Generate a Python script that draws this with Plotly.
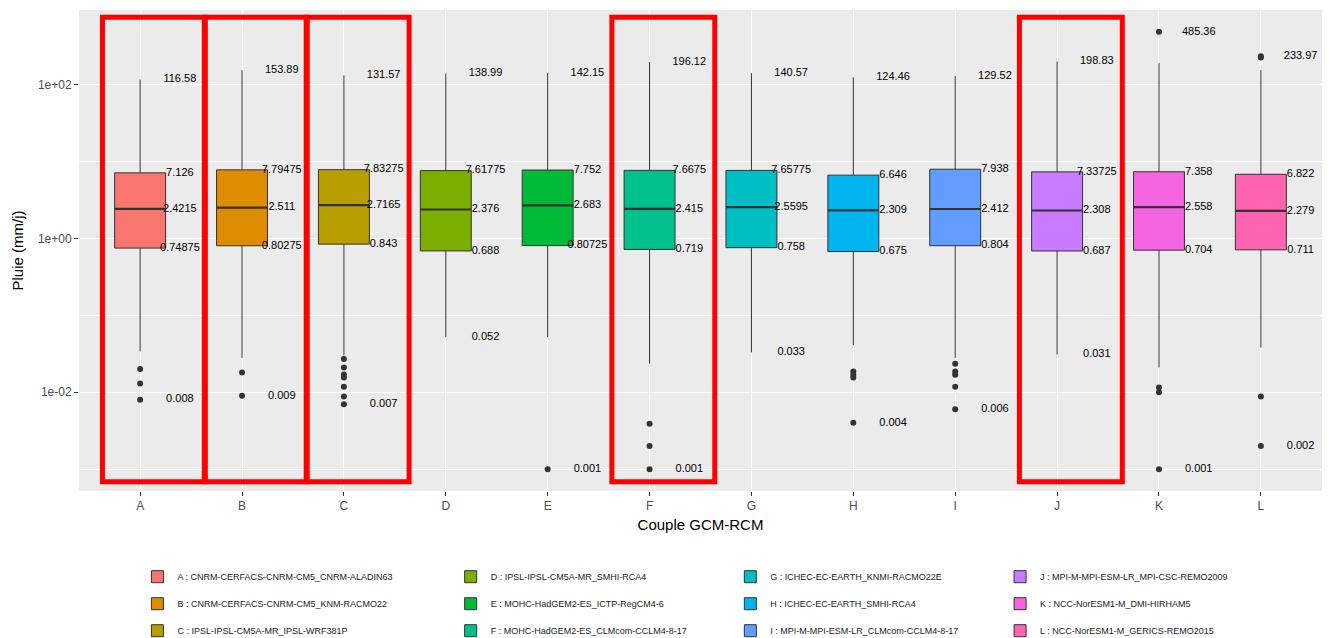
import plotly.graph_objects as go

categories = ["A", "B", "C", "D", "E", "F", "G", "H", "I", "J", "K", "L"]
legend_names = [
    "A : CNRM-CERFACS-CNRM-CM5_CNRM-ALADIN63",
    "B : CNRM-CERFACS-CNRM-CM5_KNM-RACMO22",
    "C : IPSL-IPSL-CM5A-MR_IPSL-WRF381P",
    "D : IPSL-IPSL-CM5A-MR_SMHI-RCA4",
    "E : MOHC-HadGEM2-ES_ICTP-RegCM4-6",
    "F : MOHC-HadGEM2-ES_CLMcom-CCLM4-8-17",
    "G : ICHEC-EC-EARTH_KNMI-RACMO22E",
    "H : ICHEC-EC-EARTH_SMHI-RCA4",
    "I : MPI-M-MPI-ESM-LR_CLMcom-CCLM4-8-17",
    "J : MPI-M-MPI-ESM-LR_MPI-CSC-REMO2009",
    "K : NCC-NorESM1-M_DMI-HIRHAM5",
    "L : NCC-NorESM1-M_GERICS-REMO2015",
]
colors = ["#F8766D", "#DE8C00", "#B79F00", "#7CAE00", "#00BA38", "#00C08B",
          "#00BFC4", "#00B4F0", "#619CFF", "#C77CFF", "#F564E3", "#FF64B0"]

q1 = [0.74875, 0.80275, 0.843, 0.688, 0.80725, 0.719, 0.758, 0.675, 0.804, 0.687, 0.704, 0.711]
median = [2.4215, 2.511, 2.7165, 2.376, 2.683, 2.415, 2.5595, 2.309, 2.412, 2.308, 2.558, 2.279]
q3 = [7.126, 7.79475, 7.83275, 7.61775, 7.752, 7.6675, 7.65775, 6.646, 7.938, 7.33725, 7.358, 6.822]
upper_whisker = [116.58, 153.89, 131.57, 138.99, 142.15, 196.12, 140.57, 124.46, 129.52, 198.83, 190.0, 154.0]
lower_whisker = [0.034, 0.028, 0.030, 0.052, 0.052, 0.0235, 0.033, 0.041, 0.028, 0.031, 0.021, 0.038]
maximum = [116.58, 153.89, 131.57, 138.99, 142.15, 196.12, 140.57, 124.46, 129.52, 198.83, 485.36, 233.97]
minimum = [0.008, 0.009, 0.007, 0.052, 0.001, 0.001, 0.033, 0.004, 0.006, 0.031, 0.001, 0.002]
outliers = [
    [0.020, 0.013, 0.008],
    [0.018, 0.009],
    [0.027, 0.021, 0.017, 0.0155, 0.0118, 0.0088, 0.007],
    [],
    [0.001],
    [0.0039, 0.002, 0.001],
    [],
    [0.0186, 0.0169, 0.0155, 0.004],
    [0.0235, 0.0186, 0.0169, 0.0118, 0.006],
    [],
    [485.36, 0.0115, 0.010, 0.001],
    [233.97, 225.0, 0.0088, 0.002],
]
highlighted = ["A", "B", "C", "F", "J"]

FONT = "Liberation Sans, Arial, sans-serif"
BOX_W = 0.5
LABEL_DX = 0.39

fig = go.Figure()
legend_ids = ["legend", "legend2", "legend3", "legend4"]

for i, cat in enumerate(categories):
    fig.add_trace(go.Box(
        x=[i], q1=[q1[i]], median=[median[i]], q3=[q3[i]],
        lowerfence=[lower_whisker[i]], upperfence=[upper_whisker[i]],
        width=BOX_W, whiskerwidth=0, boxpoints=False,
        fillcolor=colors[i], line=dict(color="#333333", width=1),
        name=legend_names[i], legendgroup=cat, legend=legend_ids[i // 3],
        hoverinfo="skip",
    ))
    # thicker median line (ggplot fatten)
    fig.add_trace(go.Scatter(
        x=[i - BOX_W / 2, i + BOX_W / 2], y=[median[i], median[i]],
        mode="lines", line=dict(color="#333333", width=2.2),
        showlegend=False, hoverinfo="skip",
    ))
    if outliers[i]:
        fig.add_trace(go.Scatter(
            x=[i] * len(outliers[i]), y=outliers[i], mode="markers",
            marker=dict(color="#333333", size=6),
            showlegend=False, hoverinfo="skip",
        ))
    vals = [maximum[i], q3[i], median[i], q1[i], minimum[i]]
    fig.add_trace(go.Scatter(
        x=[i + LABEL_DX] * len(vals), y=vals, mode="text",
        text=[str(v) for v in vals], textposition="middle center",
        textfont=dict(family=FONT, size=11, color="#000000"),
        showlegend=False, hoverinfo="skip",
    ))

# red highlight rectangles
for cat in highlighted:
    i = categories.index(cat)
    fig.add_shape(type="rect", xref="x", yref="paper",
                  x0=i - 0.37, x1=i + 0.64, y0=0.019, y1=0.985,
                  line=dict(color="#FF0000", width=5), fillcolor="rgba(0,0,0,0)",
                  layer="above")

legend_x = [0.047, 0.299, 0.524, 0.741]
legend_common = dict(
    orientation="v", yanchor="top", y=-0.148, xanchor="left",
    font=dict(family=FONT, size=9, color="#1a1a1a"),
    bgcolor="rgba(0,0,0,0)", tracegroupgap=8, traceorder="grouped",
    itemclick=False, itemdoubleclick=False,
)

fig.update_layout(
    width=1332, height=638,
    paper_bgcolor="white", plot_bgcolor="#EBEBEB",
    margin=dict(l=79, r=10, t=10, b=147, autoexpand=False),
    font=dict(family=FONT),
    showlegend=True,
    legend=dict(x=legend_x[0], **legend_common),
    legend2=dict(x=legend_x[1], **legend_common),
    legend3=dict(x=legend_x[2], **legend_common),
    legend4=dict(x=legend_x[3], **legend_common),
    xaxis=dict(
        range=[-0.6, 11.6], tickmode="array", tickvals=list(range(len(categories))),
        ticktext=categories, showgrid=True, gridcolor="white", gridwidth=1.1,
        zeroline=False, showline=False, ticks="outside", ticklen=4,
        tickcolor="#333333", tickfont=dict(family=FONT, size=12, color="#4d4d4d"),
        title=dict(text="Couple GCM-RCM", font=dict(family=FONT, size=15, color="#000000"),
                   standoff=7),
    ),
    yaxis=dict(
        type="log", range=[-3.284, 2.97], tickmode="array",
        tickvals=[0.01, 1, 100], ticktext=["1e-02", "1e+00", "1e+02"],
        showgrid=True, gridcolor="white", gridwidth=1.1,
        minor=dict(tickmode="array", tickvals=[0.001, 0.1, 10], showgrid=True,
                   gridcolor="white", gridwidth=0.5, ticks=""),
        zeroline=False, showline=False, ticks="outside", ticklen=4,
        tickcolor="#333333", tickfont=dict(family=FONT, size=12, color="#4d4d4d"),
        title=dict(text="Pluie (mm/j)", font=dict(family=FONT, size=15, color="#000000"),
                   standoff=10),
    ),
)

fig.write_html("out.html", post_script="document.body.style.margin='0';",
               config={"displayModeBar": False})
